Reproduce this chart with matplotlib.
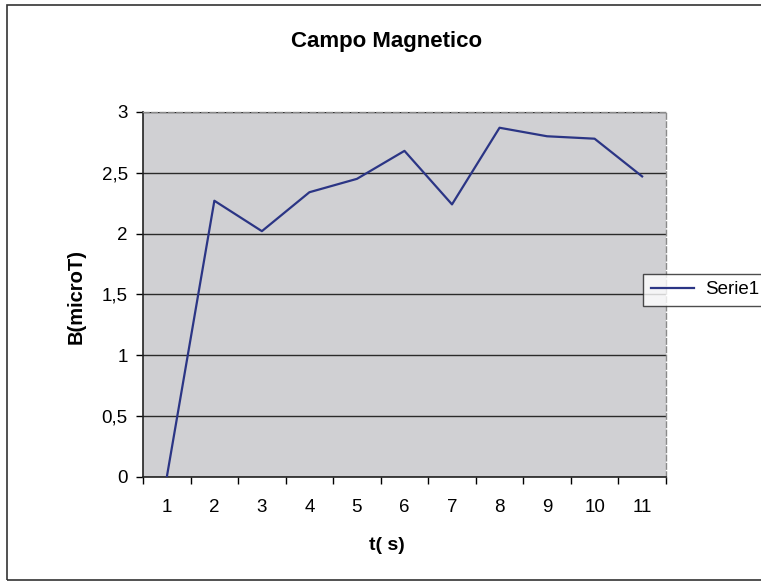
import numpy as np
import matplotlib.pyplot as plt
import matplotlib.patches as mpatches
from matplotlib.ticker import FixedLocator, FuncFormatter

plt.rcParams['font.family'] = ['Liberation Sans', 'DejaVu Sans']

# campo magnetico misurato ogni secondo
t_labels = ['1', '2', '3', '4', '5', '6', '7', '8', '9', '10', '11']
b_values = [0.0, 2.27, 2.02, 2.34, 2.45, 2.68, 2.24, 2.87, 2.80, 2.78, 2.47]
y_ticks = [0, 0.5, 1, 1.5, 2, 2.5, 3]

fig = plt.figure(figsize=(7.61, 5.83), dpi=100)
fig.patch.set_facecolor('white')

ax = fig.add_axes([0.188, 0.182, 0.687, 0.626])
ax.set_facecolor('#d0d0d3')

x = np.arange(1, len(t_labels) + 1)
ax.plot(x, b_values, color='#2b3585', lw=1.6, label='Serie1', zorder=3)

ax.set_xlim(0.5, len(t_labels) + 0.5)
ax.set_ylim(0, 3)

ax.set_yticks(y_ticks)
ax.yaxis.set_major_formatter(FuncFormatter(lambda v, p: f'{v:g}'.replace('.', ',')))
ax.set_xticks(x)
ax.set_xticklabels(t_labels)
ax.xaxis.set_minor_locator(FixedLocator(np.arange(0.5, len(t_labels) + 1, 1)))
ax.tick_params(axis='x', which='major', length=0, pad=16, labelsize=13.5)
ax.tick_params(axis='x', which='minor', length=5, width=1.0, direction='out')
ax.tick_params(axis='y', length=5, width=1.0, direction='out', labelsize=13.5, pad=6)

ax.grid(axis='y', color='#2a2a2a', lw=1.0)
ax.set_axisbelow(True)

for side in ('left', 'bottom'):
    ax.spines[side].set_color('#222222')
    ax.spines[side].set_linewidth(1.2)
for side in ('top', 'right'):
    ax.spines[side].set_color('#8a8a8a')
    ax.spines[side].set_linewidth(1.0)
    ax.spines[side].set_linestyle((0, (4, 2)))

# titoli centrati sull'area del grafico
fig.text(387 / 761, 1 - 41 / 583, 'Campo Magnetico', ha='center', va='center',
         fontsize=16, fontweight='bold')
fig.text(387 / 761, 1 - 545 / 583, 't( s)', ha='center', va='center',
         fontsize=14, fontweight='bold')
fig.text(76 / 761, 1 - 297 / 583, 'B(microT)', ha='center', va='center',
         rotation=90, fontsize=14.5, fontweight='bold')

leg = ax.legend(loc='center left', bbox_to_anchor=(0.845, 0.503),
                bbox_transform=fig.transFigure, frameon=True, fancybox=False,
                fontsize=13.5, handlelength=2.3, handletextpad=0.6,
                borderpad=0.4, borderaxespad=0)
leg.get_frame().set_edgecolor('#222222')
leg.get_frame().set_linewidth(1.0)

# cornice esterna del grafico
frame = mpatches.Rectangle((7 / 761, 3 / 583), 1.0, 1 - 8 / 583,
                           transform=fig.transFigure, fill=False,
                           edgecolor='#333333', lw=1.2, clip_on=False)
fig.patches.append(frame)

fig.savefig('out.png', dpi=100)
